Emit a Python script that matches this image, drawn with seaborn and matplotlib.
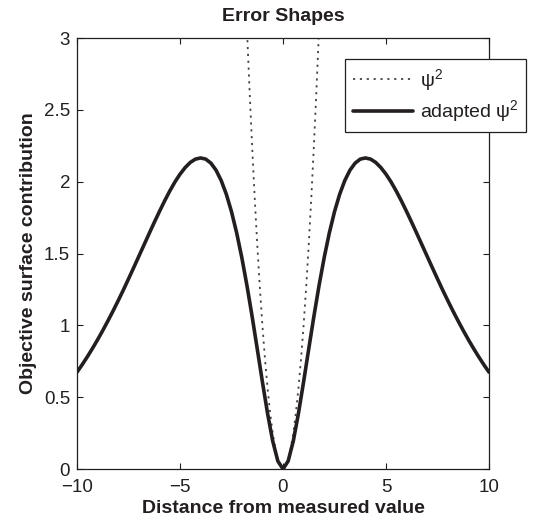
import matplotlib
matplotlib.use("Agg")
import matplotlib.pyplot as plt
import seaborn as sns
import pandas as pd

# ---- data ----
dist_x = [-10, -9.75, -9.5, -9.25, -9, -8.75, -8.5, -8.25, -8, -7.75, -7.5, -7.25, -7, -6.75,
          -6.5, -6.25, -6, -5.75, -5.5, -5.25, -5, -4.75, -4.5, -4.25, -4, -3.75, -3.5, -3.25,
          -3, -2.75, -2.5, -2.25, -2, -1.75, -1.5, -1.25, -1, -0.75, -0.5, -0.25, 0,
          0.25, 0.5, 0.75, 1, 1.25, 1.5, 1.75, 2, 2.25, 2.5, 2.75, 3, 3.25, 3.5, 3.75, 4,
          4.25, 4.5, 4.75, 5, 5.25, 5.5, 5.75, 6, 6.25, 6.5, 6.75, 7, 7.25, 7.5, 7.75, 8,
          8.25, 8.5, 8.75, 9, 9.25, 9.5, 9.75, 10]
adapted_psi2 = [0.674, 0.726, 0.781, 0.839, 0.900, 0.964, 1.031, 1.100, 1.172, 1.246, 1.323,
                1.401, 1.480, 1.559, 1.638, 1.716, 1.792, 1.865, 1.934, 1.997, 2.052, 2.098,
                2.134, 2.157, 2.165, 2.157, 2.129, 2.080, 2.008, 1.912, 1.791, 1.644, 1.472,
                1.277, 1.063, 0.836, 0.607, 0.387, 0.195, 0.055, 0.0,
                0.055, 0.195, 0.387, 0.607, 0.836, 1.063, 1.277, 1.472, 1.644, 1.791, 1.912,
                2.008, 2.080, 2.129, 2.157, 2.165, 2.157, 2.134, 2.098, 2.052, 1.997, 1.934,
                1.865, 1.792, 1.716, 1.638, 1.559, 1.480, 1.401, 1.323, 1.246, 1.172, 1.100,
                1.031, 0.964, 0.900, 0.839, 0.781, 0.726, 0.674]
psi_x = [-2, -1.875, -1.75, -1.625, -1.5, -1.375, -1.25, -1.125, -1, -0.875, -0.75, -0.625, -0.5,
         -0.375, -0.25, -0.125, 0, 0.125, 0.25, 0.375, 0.5, 0.625, 0.75, 0.875, 1, 1.125, 1.25,
         1.375, 1.5, 1.625, 1.75, 1.875, 2]
psi2 = [4.0, 3.516, 3.063, 2.641, 2.25, 1.891, 1.563, 1.266, 1.0, 0.766, 0.563, 0.391, 0.25,
        0.141, 0.063, 0.016, 0.0, 0.016, 0.063, 0.141, 0.25, 0.391, 0.563, 0.766, 1.0, 1.266, 1.563,
        1.891, 2.25, 2.641, 3.063, 3.516, 4.0]
x_ticks = [-10, -5, 0, 5, 10]
y_ticks = [0, 0.5, 1, 1.5, 2, 2.5, 3]
y_tick_labels = ["0", "0.5", "1", "1.5", "2", "2.5", "3"]

title = "Error Shapes"
x_label = "Distance from measured value"
y_label = "Objective surface contribution"
legend_labels = ["ψ$^2$", "adapted ψ$^2$"]

# ---- style ----
sns.set_theme(style="white")
ink = "#231f20"
plt.rcParams.update({
    "font.family": ["Liberation Sans", "DejaVu Sans"],
    "mathtext.fontset": "custom",
    "mathtext.rm": "Liberation Sans",
    "mathtext.it": "Liberation Sans:italic",
    "mathtext.bf": "Liberation Sans:bold",
    "text.color": ink,
    "axes.labelcolor": ink,
    "xtick.color": ink,
    "ytick.color": ink,
    "axes.edgecolor": ink,
    "axes.unicode_minus": True,
})

fig = plt.figure(figsize=(5.33, 5.24), dpi=100)
ax = fig.add_axes([77 / 533, 1 - 469 / 524, 412 / 533, 431 / 524])

df_psi = pd.DataFrame({"x": psi_x, "y": psi2})
df_ad = pd.DataFrame({"x": dist_x, "y": adapted_psi2})

sns.lineplot(data=df_psi, x="x", y="y", ax=ax, color="#444444", lw=1.3,
             linestyle=(0, (1.2, 2.6)), label=legend_labels[0], sort=False)
sns.lineplot(data=df_ad, x="x", y="y", ax=ax, color=ink, lw=2.6,
             label=legend_labels[1], sort=False)

ax.set_xlim(-10, 10)
ax.set_ylim(0, 3)
ax.set_xticks(x_ticks)
ax.set_yticks(y_ticks)
ax.set_yticklabels(y_tick_labels)
ax.tick_params(direction="in", length=4, width=0.8, labelsize=13.5, top=True, right=True,
               bottom=True, left=True)
ax.tick_params(axis="x", pad=7)
ax.tick_params(axis="y", pad=5)
for s in ax.spines.values():
    s.set_linewidth(0.9)
    s.set_color(ink)

ax.set_title(title, fontsize=14, fontweight="bold", pad=12)
ax.set_xlabel(x_label, fontsize=14, fontweight="bold", labelpad=3)
ax.set_ylabel(y_label, fontsize=14, fontweight="bold", labelpad=5)

leg = ax.legend(loc="upper left", bbox_to_anchor=(345 / 533, 1 - 59 / 524),
                bbox_transform=fig.transFigure, fontsize=14, frameon=True,
                fancybox=False, shadow=False, handlelength=3.1, handletextpad=0.35,
                borderpad=0.4, labelspacing=0.3, borderaxespad=0)
leg.get_frame().set_edgecolor(ink)
leg.get_frame().set_linewidth(0.9)
leg.get_frame().set_facecolor("white")
leg.get_frame().set_alpha(1)

fig.savefig("out.png", dpi=100)
